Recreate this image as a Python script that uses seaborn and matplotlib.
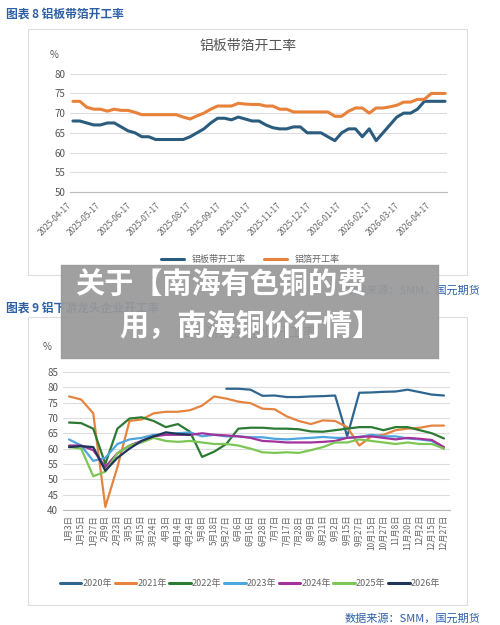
import numpy as np
import pandas as pd
import matplotlib.pyplot as plt
import matplotlib.patches as patches
import seaborn as sns

sns.set_style("white")
plt.rcParams["font.family"] = ["Noto Sans CJK SC", "DejaVu Sans"]

# top chart data (weekly from 2025-04-17)
top_dates = pd.date_range("2025-04-17", periods=55, freq="7D")
plate_rate = [68, 68, 67.5, 67, 67, 67.5, 67.5, 66.5, 65.5, 65,
              64, 64, 63.3, 63.3, 63.3, 63.3, 63.3, 64, 65, 66,
              67.5, 68.7, 68.7, 68.3, 69, 68.5, 68, 68, 67, 66.3,
              66, 66, 66.5, 66.5, 65, 65, 65, 64, 63, 65,
              66, 66, 64, 66, 63, 65, 67, 69, 70, 70,
              71, 73, 73, 73, 73]
foil_rate = [73, 73, 71.5, 71, 71, 70.5, 71, 70.7, 70.7, 70.2,
             69.6, 69.6, 69.6, 69.6, 69.6, 69.6, 69, 68.5, 69.3, 70,
             71, 71.8, 71.8, 71.8, 72.5, 72.3, 72.2, 72.2, 71.8, 71.8,
             71, 71, 70.3, 70.3, 70.3, 70.3, 70.3, 70.3, 69.2, 69.2,
             70.5, 71.3, 71.3, 70, 71.3, 71.3, 71.6, 72, 72.8, 72.8,
             73.5, 73.5, 75, 75, 75]
top_ticks = pd.date_range("2025-04-01", "2026-04-01", freq="MS") + pd.Timedelta(days=16)

# bottom chart data
day_labels = ["1月3日", "1月15日", "1月27日", "2月9日", "2月23日", "3月5日", "3月15日", "3月24日",
              "4月3日", "4月14日", "4月24日", "5月8日", "5月18日", "5月27日", "6月6日", "6月16日",
              "6月28日", "7月7日", "7月17日", "7月28日", "8月9日", "8月21日", "9月2日", "9月15日",
              "9月27日", "10月15日", "10月27日", "11月8日", "11月20日", "12月2日", "12月15日", "12月27日"]
nan = np.nan
y2020 = [nan] * 13 + [79.5, 79.5, 79.2, 77.2, 77.3, 76.8, 76.8, 77, 77.1, 77.3, 64,
                      78.2, 78.3, 78.5, 78.6, 79.2, 78.4, 77.6, 77.3]
y2021 = [77, 76, 71.5, 41, 54, 69, 69.5, 71.5, 72, 72, 72.5, 74, 77, 76.3, 75.3, 74.8,
         73, 72.8, 70.5, 69, 68, 69.2, 69, 67, 61, 64, 64.5, 66, 66.5, 66.8, 67.5, 67.5]
y2022 = [68.5, 68.3, 66.5, 55, 66.5, 69.8, 70.2, 69, 67, 68, 65.5, 57.3, 59, 61.5, 66.5, 66.8,
         66.8, 66.5, 66.5, 66.3, 65.6, 65.5, 66, 66.5, 67, 67, 66, 67, 67, 66, 65, 63.3]
y2023 = [63, 61, 56, 57, 61.5, 63, 63.5, 64.5, 64.5, 65, 65.3, 64, 64.5, 64, 64, 63.7,
         63.7, 63.2, 63, 63.3, 63.5, 63.8, 63.5, 63.5, 63.8, 64.5, 64, 64, 63.3, 63, 62.5, 60]
y2024 = [61, 61, 59.5, 54, 58.5, 61, 62.5, 64, 64.5, 64.5, 64.5, 65, 64.5, 64.3, 64, 63.5,
         62.5, 62.3, 62, 62, 62, 62.2, 62.5, 63.5, 63.8, 64, 63.5, 63, 63.5, 63.2, 62.8, 60.5]
y2025 = [60.5, 60, 51, 52.5, 58.5, 61, 62, 63.5, 62.5, 62.2, 62.5, 62, 61.5, 61.5, 61, 60,
         58.8, 58.6, 58.8, 58.6, 59.5, 60.5, 62, 62, 63, 62.5, 62, 61.5, 62, 61.5, 61.5, 60]
y2026 = [60.5, 60.8, 60.5, 52.8, 57, 60, 62.5, 64, 65.3, 64.8, 64.5] + [nan] * 21

years = ["2020年", "2021年", "2022年", "2023年", "2024年", "2025年", "2026年"]
year_colors = ["#2F6690", "#E5843F", "#2C7A34", "#4DA6DE", "#A2329C", "#7DC656", "#1D3557"]

fig = plt.figure(figsize=(5, 6.25), dpi=100)
blue_txt = "#2D5FA6"

# panel frames
for y0, h in [(1 - 275 / 625, 246 / 625), (1 - 605 / 625, 288 / 625)]:
    fig.patches.append(patches.Rectangle((0.056, y0), 0.878, h, transform=fig.transFigure,
                                         fill=False, ec="#dddddd", lw=0.8))

fig.text(0.012, 0.977, "图表 8 铝板带箔开工率", fontsize=8.5, color=blue_txt, fontweight="bold", va="center")
fig.text(0.496, 0.926, "铝板带箔开工率", fontsize=10, color="#555555", ha="center", va="center")
fig.text(0.1, 0.912, "%", fontsize=7, color="#555555", va="center")

ax1 = fig.add_axes([0.14, 0.693, 0.754, 0.189])
df_top = pd.DataFrame({"date": top_dates, "铝板带开工率": plate_rate, "铝箔开工率": foil_rate})
df_top = df_top.melt("date", var_name="系列", value_name="rate")
sns.lineplot(data=df_top, x="date", y="rate", hue="系列", palette=["#2B5C7E", "#E8813A"],
             lw=2.2, ax=ax1, legend=False)
ax1.set_ylim(50, 80)
ax1.set_yticks(range(50, 81, 5))
ax1.set_xlim(top_dates[0] - pd.Timedelta(days=3), top_dates[-1] + pd.Timedelta(days=2))
ax1.set_xticks(top_ticks)
ax1.set_xticklabels([d.strftime("%Y-%m-%d") for d in top_ticks], rotation=45, ha="right",
                    fontsize=6, color="#666666")
ax1.tick_params(axis="y", labelsize=7, labelcolor="#555555", length=0)
ax1.tick_params(axis="x", length=3, color="#bbbbbb")
ax1.grid(axis="y", color="#dddddd", lw=0.8)
for s in ["top", "right", "left"]:
    ax1.spines[s].set_visible(False)
ax1.spines["bottom"].set_color("#bbbbbb")
ax1.set_xlabel("")
ax1.set_ylabel("")
h1 = [plt.Line2D([], [], color=c, lw=2.2) for c in ["#2B5C7E", "#E8813A"]]
fig.legend(h1, ["铝板带开工率", "铝箔开工率"], loc="center", bbox_to_anchor=(0.5, 0.585), ncol=2,
           frameon=False, fontsize=6.5, labelcolor="#666666", handlelength=2.6, columnspacing=2)

fig.text(0.96, 0.535, "数据来源：SMM，国元期货", fontsize=8, color=blue_txt, ha="right", va="center")
fig.text(0.012, 0.507, "图表 9 铝下游龙头企业开工率", fontsize=8.5, color=blue_txt, fontweight="bold", va="center")
fig.text(0.496, 0.467, "铝下游龙头企业开工率", fontsize=10, color="#555555", ha="center", va="center")
fig.text(0.085, 0.445, "%", fontsize=7, color="#555555", va="center")

ax2 = fig.add_axes([0.126, 0.184, 0.774, 0.221])
series = [y2020, y2021, y2022, y2023, y2024, y2025, y2026]
rows = []
for yr, vals in zip(years, series):
    for i, v in enumerate(vals):
        rows.append({"idx": i, "year": yr, "rate": v})
df_bot = pd.DataFrame(rows)
sns.lineplot(data=df_bot, x="idx", y="rate", hue="year", palette=year_colors, lw=1.6,
             ax=ax2, legend=False)
ax2.set_ylim(40, 85)
ax2.set_yticks(range(40, 86, 5))
ax2.set_xlim(-0.5, len(day_labels) - 0.5)
ax2.set_xticks(range(len(day_labels)))
ax2.set_xticklabels(day_labels, rotation=90, fontsize=6, color="#666666")
ax2.tick_params(axis="y", labelsize=7, labelcolor="#555555", length=0)
ax2.tick_params(axis="x", length=0)
ax2.grid(axis="y", color="#dddddd", lw=0.8)
for s in ["top", "right", "left"]:
    ax2.spines[s].set_visible(False)
ax2.spines["bottom"].set_color("#bbbbbb")
ax2.set_xlabel("")
ax2.set_ylabel("")
h2 = [plt.Line2D([], [], color=c, lw=2.2) for c in year_colors]
fig.legend(h2, years, loc="center", bbox_to_anchor=(0.5, 0.066), ncol=7, frameon=False,
           fontsize=6.5, labelcolor="#666666", handlelength=2.4, columnspacing=0.3, handletextpad=0.1)
fig.text(0.96, 0.011, "数据来源：SMM，国元期货", fontsize=8, color=blue_txt, ha="right", va="center")

# grey overlay banner
fig.patches.append(patches.Rectangle((0.122, 1 - 358 / 625), 0.754, 93 / 625, transform=fig.transFigure,
                                     color="#999999", alpha=0.93, zorder=10))
fig.text(0.15, 0.545, "关于【南海有色铜的费", fontsize=21, color="white", fontweight="bold",
         va="center", zorder=11)
fig.text(0.5, 0.478, "用，南海铜价行情】", fontsize=21, color="white", fontweight="bold",
         ha="center", va="center", zorder=11)

fig.savefig("out.png", dpi=100)
